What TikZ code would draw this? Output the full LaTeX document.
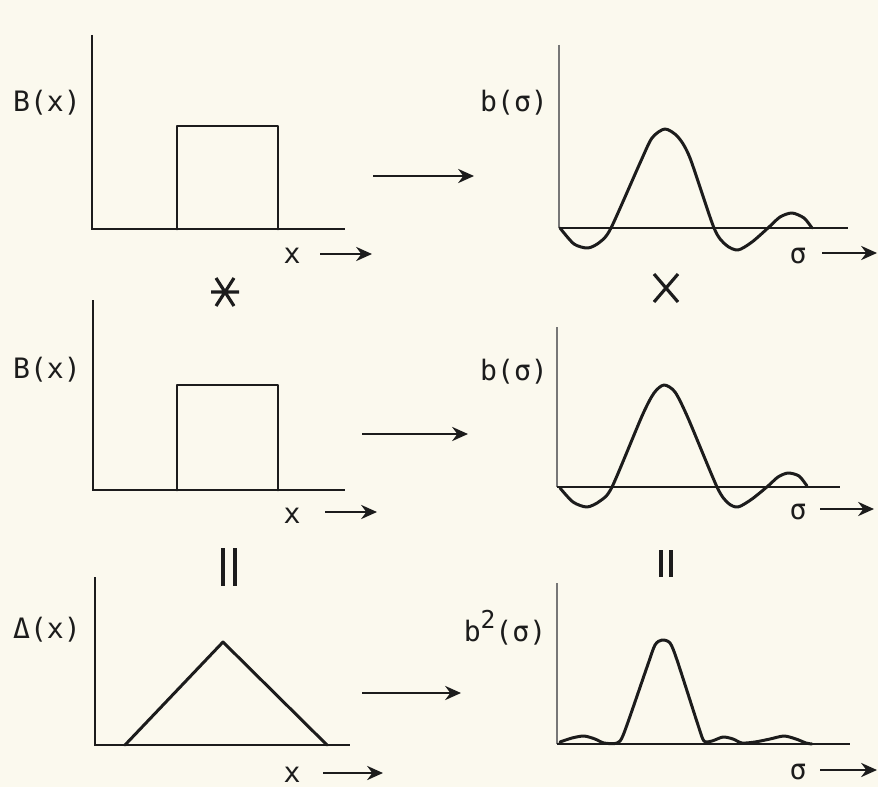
\documentclass[tikz,border=0pt]{standalone}
\usepackage{fontspec}
\setmonofont{DejaVu Sans Mono}
\usetikzlibrary{arrows.meta}
\definecolor{paper}{RGB}{251,249,238}
\definecolor{ink}{RGB}{28,28,28}
\begin{document}
\begin{tikzpicture}[x=0.02cm,y=-0.02cm,
  lbl/.style={font=\ttfamily\fontsize{16}{16}\selectfont, text=ink, inner sep=0pt},
  axis/.style={draw=ink, line width=1.6pt},
  faxis/.style={draw=ink!60, line width=1.2pt},
  curve/.style={draw=ink, line width=1.7pt, line join=round, line cap=round},
  arr/.style={draw=ink, line width=1.6pt, -{Stealth[length=9pt,width=8pt]}},
  opsym/.style={draw=ink, line width=1.8pt}]
\fill[paper] (0,0) rectangle (878,787);
\useasboundingbox (0,0) rectangle (878,787);

% ---------- top left: B(x)
\draw[axis] (92,35) -- (92,229) -- (345,229);
\draw[curve] (177,229) -- (177,126) -- (278,126) -- (278,229);
\node[lbl] (lB1) at (47,103) {B(x)};
\node[lbl] (lx1) at (292,256) {x};
\coordinate (xa1s) at (320,254); \coordinate (xa1e) at (372,254);
\draw[arr] (xa1s) -- (xa1e);

% ---------- top right: b(sigma)
\draw[faxis] (559,45) -- (559,228);
\draw[axis] (559,228) -- (848,228);
\draw[curve] plot[smooth, tension=0.45] coordinates {(560,228) (574,244) (588,248) (600,242) (611,228) (640,163) (652,138) (665,129) (678,137) (690,158) (714,228) (726,245) (738,250) (752,242) (768,228) (780,217) (792,213) (804,218) (812,228)};
\node[lbl] (lb1) at (514,103) {b(σ)};
\node[lbl] (ls1) at (798,256) {σ};
\coordinate (sa1s) at (822,253); \coordinate (sa1e) at (877,253);
\draw[arr] (sa1s) -- (sa1e);

% transform arrow 1
\coordinate (t1s) at (373,176); \coordinate (t1e) at (474,176);
\draw[arr] (t1s) -- (t1e);

% convolution star and product cross
\draw[opsym] (211,292) -- (239,292) (216,278) -- (234,306) (234,278) -- (216,306);
\draw[opsym] (654,274) -- (678,302) (678,274) -- (654,302);

% ---------- middle left: B(x)
\draw[axis] (93,300) -- (93,490) -- (345,490);
\draw[curve] (177,490) -- (177,385) -- (278,385) -- (278,490);
\node[lbl] (lB2) at (47,370) {B(x)};
\node[lbl] (lx2) at (292,516) {x};
\coordinate (xa2s) at (325,512); \coordinate (xa2e) at (377,512);
\draw[arr] (xa2s) -- (xa2e);

% ---------- middle right: b(sigma)
\draw[faxis] (557,327) -- (557,487);
\draw[axis] (557,487) -- (840,487);
\draw[curve] plot[smooth, tension=0.45] coordinates {(560,488) (573,502) (587,507) (600,501) (612,487) (642,416) (654,393) (664,385) (675,392) (688,418) (717,487) (728,503) (738,507) (752,499) (768,486) (778,477) (788,473) (799,476) (807,486)};
\node[lbl] (lb2) at (514,372) {b(σ)};
\node[lbl] (ls2) at (798,512) {σ};
\coordinate (sa2s) at (820,509); \coordinate (sa2e) at (874,509);
\draw[arr] (sa2s) -- (sa2e);

% transform arrow 2
\coordinate (t2s) at (362,434); \coordinate (t2e) at (468,434);
\draw[arr] (t2s) -- (t2e);

% equals bars
\draw[opsym, line width=2.2pt] (223,548) -- (223,586) (235,548) -- (235,586);
\draw[opsym, line width=2.2pt] (661,550) -- (661,577) (671,550) -- (671,577);

% ---------- bottom left: Delta(x)
\draw[axis] (95,577) -- (95,745) -- (350,745);
\draw[curve] (125,745) -- (223,642) -- (327,745);
\node[lbl] (lD) at (47,630) {Δ(x)};
\node[lbl] (lx3) at (292,775) {x};
\coordinate (xa3s) at (323,773); \coordinate (xa3e) at (383,773);
\draw[arr] (xa3s) -- (xa3e);

% ---------- bottom right: b^2(sigma)
\draw[faxis] (557,583) -- (557,744);
\draw[axis] (557,744) -- (850,744);
\draw[curve] plot[smooth, tension=0.45] coordinates {(560,742) (572,738) (584,736) (595,739) (604,743) (617,743) (624,733) (647,667) (655,645) (662,640) (670,643) (677,660) (698,725) (704,741) (712,741) (723,737) (733,739) (742,743) (755,742) (770,739) (784,736) (796,739) (806,743) (812,744)};
\node[lbl] (lb3) at (505,628) {b\raisebox{0.45em}{\fontsize{14}{14}\selectfont 2}(σ)};
\node[lbl] (ls3) at (798,772) {σ};
\coordinate (sa3s) at (820,770); \coordinate (sa3e) at (877,770);
\draw[arr] (sa3s) -- (sa3e);

% transform arrow 3
\coordinate (t3s) at (362,693); \coordinate (t3e) at (461,693);
\draw[arr] (t3s) -- (t3e);
\end{tikzpicture}
\end{document}
